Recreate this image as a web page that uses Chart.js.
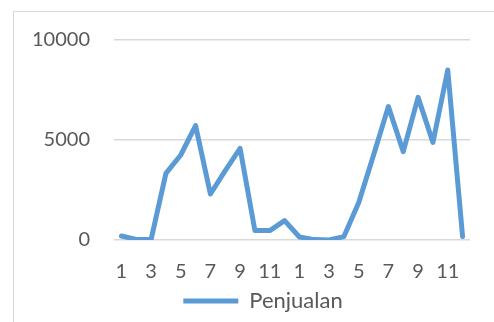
<!DOCTYPE html>
<html>
<head>
<meta charset="utf-8">
<script src="https://cdn.jsdelivr.net/npm/chart.js@4.4.1/dist/chart.umd.min.js"></script>
<style>
  html, body { margin: 0; padding: 0; background: #fff; overflow: hidden; }
  #wrap { position: relative; width: 494px; height: 322px; }
  #frame {
    position: absolute; left: 13px; top: 11px; width: 600px; height: 400px;
    border: 1px solid #d9d9d9; box-sizing: border-box; pointer-events: none;
  }
  canvas { position: absolute; left: 0; top: 0; }
</style>
</head>
<body>
<div id="wrap">
  <canvas id="lineChart" width="494" height="322"></canvas>
  <div id="frame"></div>
</div>
<script>
// two years of monthly sales
const months = ['1', '2', '3', '4', '5', '6', '7', '8', '9', '10', '11', '12',
                '1', '2', '3', '4', '5', '6', '7', '8', '9', '10', '11', '12'];
const penjualan = [200, 30, 20, 3330, 4250, 5720, 2300, 3470, 4580, 470, 470, 970,
                   150, 20, 0, 170, 1880, 4250, 6670, 4420, 7130, 4880, 8500, 170];
const yTicks = [0, 5000, 10000];

// nudge the legend to the right, under the plot
const shiftLegend = {
    id: 'shiftLegend',
    afterLayout(chart) {
        chart.legend.left += 28;
        chart.legend.right += 28;
    }
};

const ctx = document.getElementById('lineChart').getContext('2d');
const lineChart = new Chart(ctx, {
    type: 'line',
    data: {
        labels: months,
        datasets: [{
            label: 'Penjualan',
            data: penjualan,
            borderColor: '#5B9BD5',
            backgroundColor: '#5B9BD5',
            borderWidth: 5,
            borderCapStyle: 'round',
            borderJoinStyle: 'round',
            pointRadius: 0,
            tension: 0,
            fill: false
        }]
    },
    plugins: [shiftLegend],
    options: {
        responsive: false,
        animation: false,
        layout: {
            padding: { left: 0, right: 24, top: 40, bottom: 0 }
        },
        font: { family: 'Lato', size: 20 },
        plugins: {
            tooltip: { enabled: false },
            legend: {
                position: 'bottom',
                labels: {
                    color: '#595959',
                    font: { family: 'Lato', size: 22 },
                    usePointStyle: true,
                    pointStyle: 'line',
                    pointStyleWidth: 55,
                    padding: 0
                }
            }
        },
        scales: {
            x: {
                offset: true,
                afterFit: function (scale) { scale.height -= 6; },
                grid: { display: false },
                border: { display: false },
                ticks: {
                    color: '#595959',
                    font: { family: 'Lato', size: 20 },
                    autoSkip: false,
                    maxRotation: 0,
                    padding: 12,
                    // every other month gets a label
                    callback: function (value, index) {
                        return index % 2 === 0 ? this.getLabelForValue(value) : '';
                    }
                }
            },
            y: {
                min: yTicks[0],
                max: yTicks[yTicks.length - 1],
                afterFit: function (scale) { scale.width = 114; },
                afterBuildTicks: function (scale) {
                    scale.ticks = yTicks.map(v => ({ value: v }));
                },
                border: { display: false },
                grid: { color: '#d9d9d9', lineWidth: 1.5, drawTicks: false },
                ticks: {
                    color: '#595959',
                    font: { family: 'Lato', size: 20 },
                    padding: 24,
                    callback: function (value) { return String(value); }
                }
            }
        }
    }
});
</script>
</body>
</html>
